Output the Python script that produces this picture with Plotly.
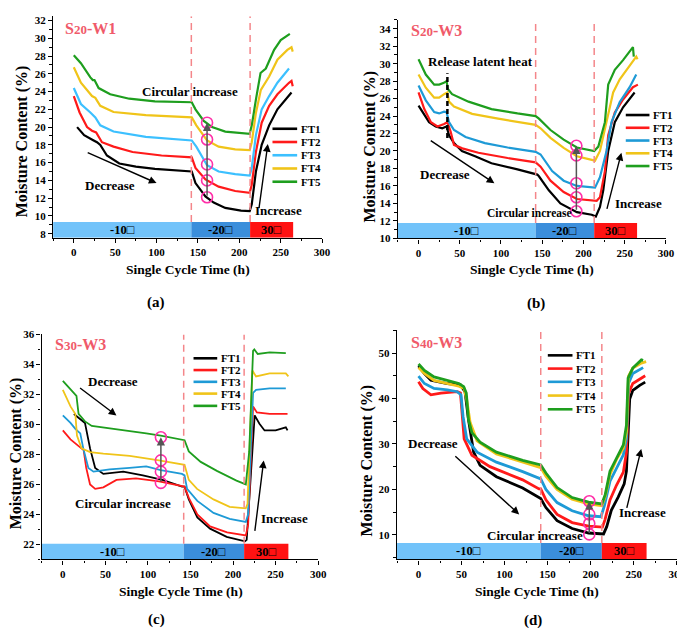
import plotly.graph_objects as go

W, H = 685, 628
FONT = "Liberation Serif"

FT_NAMES = ["FT1", "FT2", "FT3", "FT4", "FT5"]
STAGE_EDGES = [-25, 142, 213, 265]
STAGE_LABELS = ["-10□", "-20□", "30□"]
STAGE_COLORS = ["#72C3FA", "#3B8EDB", "#FF1212"]

# (a) S20-W1
a_t1 = [4, 12.5, 24, 28, 32, 40, 55, 75, 98, 141, 142.5, 147, 159, 169, 183, 202, 212.5, 215, 220, 227, 236, 246, 260, 263]
a_ft1 = [20.0, 19.1, 18.5, 18.3, 18.0, 16.8, 15.9, 15.55, 15.3, 15.0, 15.0, 13.7, 12.2, 11.5, 10.9, 10.6, 10.55, 11.3, 15.0, 18.0, 20.2, 22.0, 23.6, 23.9]
a_t2 = [0, 7, 16, 22, 27, 34, 48, 71, 106, 141, 142.5, 147, 159, 175, 195, 212.5, 215, 220, 227, 236, 246, 260, 263, 264.5]
a_ft2 = [23.5, 21.65, 20.0, 19.6, 19.4, 18.3, 17.8, 17.2, 16.8, 16.6, 16.6, 15.4, 14.1, 13.3, 12.8, 12.6, 13.5, 17.2, 20.5, 22.4, 23.7, 25.0, 25.2, 24.6]
a_t3 = [0, 8.6, 20, 26, 32, 48, 87, 141, 142.5, 148, 161, 175, 195, 212.5, 215, 220, 227, 236, 246, 260]
a_ft3 = [24.4, 22.6, 21.65, 21.1, 20.2, 19.5, 18.9, 18.5, 18.5, 17.8, 15.7, 15.0, 14.7, 14.55, 15.4, 19.1, 22.0, 23.5, 25.0, 26.6]
a_t4 = [0, 8.6, 22, 26, 32, 48, 87, 141, 142.5, 148, 161, 175, 195, 212.5, 215, 220, 226, 236, 246, 258, 263, 264.5]
a_ft4 = [26.75, 25.0, 23.5, 23.3, 22.4, 21.7, 21.35, 21.1, 21.1, 20.2, 18.5, 17.8, 17.5, 17.4, 18.3, 21.6, 24.2, 25.7, 27.6, 28.7, 29.0, 28.5]
a_t5 = [0, 8.6, 20, 23, 25, 30, 44, 67, 98, 141, 142.5, 147, 157, 167, 183, 212.5, 215, 220, 225.6, 232, 242, 250, 261]
a_ft5 = [28.1, 27.2, 25.6, 25.3, 25.3, 24.4, 23.7, 23.2, 22.9, 22.8, 22.8, 22.0, 20.7, 20.0, 19.5, 19.25, 20.2, 23.1, 26.1, 26.6, 28.7, 29.8, 30.5]
a_circle_t = 161
a_circles = [12.1, 14.0, 15.8, 18.6, 20.5]

# (b) S20-W3
b_t1 = [0, 7, 12.8, 20.8, 28.7, 34, 37, 43, 52.6, 68.6, 88.5, 120, 144, 146, 158, 172, 192, 210, 215, 220, 224, 230, 238, 248, 262]
b_ft1 = [25.2, 24.1, 23.3, 22.8, 22.6, 22.8, 21.8, 20.9, 20.0, 19.4, 18.6, 17.9, 17.3, 17.1, 15.5, 14.0, 13.0, 12.7, 12.5, 13.6, 15.5, 20.0, 23.3, 25.0, 26.7]
b_t2 = [0, 7, 15, 23, 31, 35, 39, 43, 53, 72.6, 108, 142, 148, 160, 176, 192, 216, 220, 226, 230, 238, 248, 260, 266]
b_ft2 = [26.7, 24.8, 23.3, 22.8, 23.1, 23.3, 22.2, 20.7, 20.3, 19.8, 19.2, 18.7, 18.2, 16.6, 15.3, 14.5, 14.3, 14.7, 17.7, 21.8, 24.4, 25.9, 27.3, 27.6]
b_t3 = [0, 8.8, 19, 25, 31, 34, 37, 43, 57, 80.5, 108, 142, 148, 162, 176, 192, 214, 220, 228, 234, 244, 256, 264]
b_ft3 = [27.5, 25.8, 24.45, 24.3, 24.5, 24.45, 23.3, 22.4, 21.6, 20.9, 20.4, 19.9, 19.6, 17.7, 16.6, 16.0, 15.8, 17.0, 20.0, 23.3, 25.6, 27.3, 28.75]
b_t4 = [0, 8.8, 19, 25, 31, 35, 37, 43, 65, 96.5, 142, 148, 160, 176, 192, 214, 220, 228, 236, 244, 256, 264, 265.5]
b_ft4 = [28.75, 27.25, 26.1, 26.1, 26.5, 26.7, 25.65, 25.1, 24.25, 23.7, 23.0, 22.6, 21.5, 20.35, 19.4, 18.9, 20.0, 23.3, 26.7, 28.2, 29.7, 30.8, 30.5]
b_t5 = [0, 8.8, 19, 25, 30.7, 34, 35.5, 40.7, 60.6, 88.5, 120, 142, 146, 160, 176, 192, 213, 218, 226, 230, 238, 248, 260, 261]
b_ft5 = [30.5, 28.75, 27.6, 27.6, 27.8, 28.0, 27.1, 26.5, 25.65, 24.8, 24.3, 24.0, 23.7, 22.4, 21.3, 20.4, 20.0, 20.5, 23.3, 27.6, 29.3, 30.4, 31.9, 30.8]
b_circle_t = 191.4
b_circles = [13.1, 14.7, 16.3, 19.5, 20.6]

# (c) S30-W3
c_t1 = [13, 26, 32, 38, 47.6, 71, 94, 117, 140, 143, 148, 158, 173, 192.5, 214, 216, 225.4, 231, 237, 250, 262, 264]
c_ft1 = [30.7, 30.1, 28.4, 27.1, 26.7, 26.85, 26.6, 26.3, 25.85, 25.85, 25.0, 23.8, 23.05, 22.5, 22.2, 22.3, 30.6, 30.05, 29.6, 29.6, 29.8, 29.6]
c_t2 = [0, 9, 18.6, 24.4, 27.5, 32, 38, 47.6, 63, 86, 113, 140, 143, 148, 158, 173, 193, 215, 217.7, 223.5, 228, 243, 264]
c_ft2 = [29.6, 29.0, 28.55, 28.3, 27.1, 26.0, 25.7, 25.8, 26.3, 26.4, 26.2, 25.85, 25.85, 25.1, 24.0, 23.2, 22.8, 22.6, 23.3, 31.2, 30.8, 30.7, 30.7]
c_t3 = [0, 9, 14.7, 20.5, 24, 30, 36, 55, 78.5, 98, 115, 140, 143, 146, 158, 177, 196, 215, 217.7, 223.5, 227, 243, 262]
c_ft3 = [30.6, 30.1, 29.7, 29.4, 28.4, 27.1, 26.85, 27.0, 27.1, 27.2, 26.95, 26.7, 26.6, 25.7, 24.9, 24.1, 23.7, 23.5, 24.0, 32.1, 32.3, 32.4, 32.4]
c_t4 = [0, 9, 14.7, 16.6, 22, 32, 47.6, 78.5, 113, 140, 143, 148, 157.7, 177, 196, 215, 217, 222.7, 227, 243, 262, 265]
c_ft4 = [32.3, 31.2, 30.7, 29.25, 28.4, 28.15, 28.05, 27.9, 27.6, 27.3, 27.3, 26.3, 25.7, 25.0, 24.5, 24.4, 24.7, 33.6, 33.2, 33.4, 33.4, 33.2]
c_t5 = [0, 9, 16, 18.5, 26, 34, 47.6, 71, 98, 115, 140, 143, 148, 162, 181, 204, 215, 219, 223.5, 225, 229, 243, 262]
c_ft5 = [32.9, 32.3, 31.9, 30.7, 30.2, 29.9, 29.8, 29.64, 29.4, 29.25, 29.0, 28.95, 28.2, 27.5, 26.9, 26.25, 26.0, 28.2, 34.9, 35.0, 34.7, 34.8, 34.75]
c_circle_t = 115.2
c_circles = [26.1, 26.85, 27.6, 29.14]

# (d) S40-W3
d_t1 = [0, 6.8, 14.4, 33.5, 48.7, 54, 58, 64, 71.5, 90.5, 121, 140, 142, 148, 161, 178.5, 197.6, 215, 218.7, 224, 232, 239, 241.6, 245.4, 249, 257, 263.4]
d_ft1 = [47.2, 45.5, 44.0, 43.3, 43.0, 41.5, 35.4, 28.2, 25.3, 22.8, 20.3, 18.1, 18.0, 16.0, 13.1, 11.4, 10.4, 10.2, 11.8, 15.4, 18.3, 21.2, 24.0, 39.9, 41.8, 42.9, 43.6]
d_t2 = [0, 5, 14.4, 26, 45, 48.7, 50.6, 53, 62, 83, 121, 140, 142, 148, 161, 178.5, 197.6, 213.7, 216.7, 222.5, 230, 238, 241.6, 244, 249, 260.7, 263.4]
d_ft2 = [43.7, 42.2, 40.8, 41.2, 41.5, 41.2, 36.8, 31.1, 27.5, 25.0, 22.1, 20.1, 20.1, 17.7, 14.5, 12.7, 11.9, 11.7, 13.35, 17.7, 20.9, 23.8, 28.1, 41.1, 43.3, 44.7, 45.0]
d_t3 = [0, 6.8, 18, 33.5, 45, 49.4, 51.7, 56, 68, 90.5, 121, 140, 142, 148, 161, 178.5, 197.6, 212, 216, 222.5, 230, 238, 241.6, 244, 249, 259, 261]
d_ft3 = [44.9, 43.3, 42.2, 41.9, 41.5, 40.8, 36.1, 31.1, 28.2, 26.0, 23.9, 22.3, 22.3, 20.0, 17.1, 15.3, 14.2, 14.0, 16.4, 21.8, 24.7, 27.6, 31.1, 43.3, 45.5, 46.6, 46.8]
d_t4 = [0, 6.8, 18, 33.5, 46.8, 53, 56, 60, 68, 90.5, 121, 140, 142, 148, 161, 178.5, 197.6, 213, 217, 222.5, 230, 238, 241.6, 244, 249, 259, 264.5]
d_ft4 = [46.8, 45.5, 44.0, 43.3, 42.7, 42.2, 39.7, 34.7, 30.7, 27.8, 26.0, 25.0, 24.8, 22.9, 20.0, 17.85, 16.8, 16.4, 18.5, 23.3, 26.6, 29.1, 32.7, 44.9, 46.7, 47.8, 48.1]
d_t5 = [0, 6.8, 18, 33.5, 46.8, 52.5, 55.5, 58, 62, 71.5, 90.5, 121, 140, 142, 148, 161, 178.5, 197.6, 213, 217, 222.5, 230, 238, 241.6, 243.5, 249, 259, 261]
d_ft5 = [47.6, 46.2, 44.75, 44.0, 43.3, 42.6, 41.2, 35.4, 32.5, 30.4, 28.2, 26.4, 25.5, 25.4, 23.6, 20.4, 18.2, 17.2, 16.8, 18.9, 24.0, 26.9, 29.8, 34.1, 44.5, 46.7, 48.5, 48.4]
d_circle_t = 198.4
d_circles = [10.1, 12.5, 14.5, 17.4]


def paper_x(p):
    return p / W


def paper_y(p):
    return 1 - p / H


def bold(size, color="black"):
    return dict(family=FONT, size=size, color=color, weight="bold")


def note(x, y, xr, yr, text, font, **kw):
    d = dict(x=x, y=y, xref=xr, yref=yr, text=text, showarrow=False, font=font,
             xanchor="center", yanchor="middle")
    d.update(kw)
    return d


panels = [
    dict(title="S<span style='font-size:13px'>20</span>-W1",
         series=[(a_t1, a_ft1), (a_t2, a_ft2), (a_t3, a_ft3), (a_t4, a_ft4), (a_t5, a_ft5)],
         colors=["#000000", "#FF1A1A", "#3CC0FF", "#F0C419", "#1E9E1E"], width=2.2,
         circle_t=a_circle_t, circles=a_circles,
         xdom=[45.7, 318.3], ydom=[2.2, 228], yrange=[7.55, 32.5], ydt=2, bar_top=9.3,
         legend=dict(x0=268, x1=293, rows=[117, 130.5, 144, 157.5, 171]),
         label_pos=(56, 15), sub=("(a)", 150, 294),
         xtitle=(182, 260), ytitle=(14, 130)),
    dict(title="S<span style='font-size:13px'>20</span>-W3",
         series=[(b_t1, b_ft1), (b_t2, b_ft2), (b_t3, b_ft3), (b_t4, b_ft4), (b_t5, b_ft5)],
         colors=["#000000", "#FF1A1A", "#1E9AD6", "#F0C419", "#1E9E1E"], width=2.2,
         circle_t=b_circle_t, circles=b_circles,
         xdom=[395.1, 666.7], ydom=[6.1, 228.7], yrange=[10, 35], ydt=2, bar_top=11.75,
         legend=dict(x0=626, x1=650, rows=[103, 116, 129, 142, 155]),
         label_pos=(406, 17), sub=("(b)", 535, 295),
         xtitle=(531, 260), ytitle=(367, 135)),
    dict(title="S<span style='font-size:13px'>30</span>-W3",
         series=[(c_t1, c_ft1), (c_t2, c_ft2), (c_t3, c_ft3), (c_t4, c_ft4), (c_t5, c_ft5)],
         colors=["#000000", "#FF1A1A", "#1E9AD6", "#F0C419", "#1E9E1E"], width=1.8,
         circle_t=c_circle_t, circles=c_circles,
         xdom=[34, 314.3], ydom=[326.7, 556], yrange=[21, 36], ydt=2, bar_top=22.05,
         legend=dict(x0=188, x1=212, rows=[351, 363, 375, 387, 399.5]),
         label_pos=(46, 337), sub=("(c)", 150, 617),
         xtitle=(175, 589), ytitle=(9, 448)),
    dict(title="S<span style='font-size:13px'>40</span>-W3",
         series=[(d_t1, d_ft1), (d_t2, d_ft2), (d_t3, d_ft3), (d_t4, d_ft4), (d_t5, d_ft5)],
         colors=["#000000", "#FF1A1A", "#1E9AD6", "#F0C419", "#1E9E1E"], width=2.8,
         circle_t=d_circle_t, circles=d_circles,
         xdom=[394.2, 677.6], ydom=[322.5, 556], yrange=[4.6, 55], ydt=10, bar_top=8.2,
         legend=dict(x0=547, x1=572, rows=[348, 361.5, 375, 389, 403]),
         label_pos=(406, 335), sub=("(d)", 532, 618),
         xtitle=(536, 589), ytitle=(364, 455)),
]

# notes: (text, x, y, font size); arrows: (x_tail, y_tail, x_head, y_head)
notes = [
    [("Circular increase", 140, 24.0, 13), ("Decrease", 44, 13.4, 13), ("Increase", 247, 10.6, 13)],
    [("Release latent heat", 75, 30.2, 13), ("Decrease", 32, 17.3, 13),
     ("Circular increase", 135, 12.85, 11.5), ("Increase", 267, 14.0, 13)],
    [("Decrease", 59, 32.85, 13), ("Circular increase", 71, 24.7, 13), ("Increase", 260, 23.75, 13)],
    [("Decrease", 17, 30.0, 13), ("Circular increase", 135, 9.8, 13), ("Increase", 260, 14.9, 13)],
]
arrows = [
    [(15, 17.2, 100, 13.7), (223.5, 10.7, 234.4, 18.1)],
    [(13, 21.3, 92, 16.3), (228, 13.2, 246, 19.8)],
    [(18.5, 32.5, 63, 30.6), (225.4, 22.8, 236, 27.6)],
    [(41, 27.6, 117, 14.5), (241.6, 15.6, 258.8, 28.9)],
]

fig = go.Figure()
annotations = []
shapes = []
layout_axes = {}

for i, p in enumerate(panels):
    s = "" if i == 0 else str(i + 1)
    xr, yr = "x" + s, "y" + s
    y0, y1 = p["yrange"]

    # temperature stages
    for k, lab in enumerate(STAGE_LABELS):
        shapes.append(dict(type="rect", xref=xr, yref=yr, x0=STAGE_EDGES[k], x1=STAGE_EDGES[k + 1],
                           y0=y0, y1=p["bar_top"], fillcolor=STAGE_COLORS[k], line=dict(width=0),
                           layer="below"))
        annotations.append(note((STAGE_EDGES[k] + STAGE_EDGES[k + 1]) / 2, (y0 + p["bar_top"]) / 2,
                                xr, yr, lab, bold(12.5)))
    for xe in STAGE_EDGES[1:3]:
        shapes.append(dict(type="line", xref=xr, yref=yr, x0=xe, x1=xe, y0=p["bar_top"], y1=y1,
                           line=dict(color="#F4868A", width=1.5, dash="7px,5px")))

    for name, (t, m), c in zip(FT_NAMES, p["series"], p["colors"]):
        fig.add_trace(go.Scatter(x=t, y=m, mode="lines", name=name, showlegend=False,
                                 line=dict(color=c, width=p["width"]), xaxis=xr, yaxis=yr))

    fig.add_trace(go.Scatter(x=[p["circle_t"]] * len(p["circles"]), y=p["circles"], mode="markers",
                             showlegend=False, xaxis=xr, yaxis=yr,
                             marker=dict(symbol="circle-open", size=11, color="#FF2FA8",
                                         line=dict(width=1.6, color="#FF2FA8"))))
    annotations.append(dict(x=p["circle_t"], y=p["circles"][-1], ax=p["circle_t"], ay=p["circles"][0],
                            xref=xr, yref=yr, axref=xr, ayref=yr, text="", showarrow=True,
                            arrowhead=2, arrowsize=1.1, arrowwidth=1.5, arrowcolor="#555555"))

    for txt, tx, ty, fs in notes[i]:
        annotations.append(note(tx, ty, xr, yr, txt, bold(fs)))
    for ax_, ay_, hx, hy in arrows[i]:
        annotations.append(dict(x=hx, y=hy, ax=ax_, ay=ay_, xref=xr, yref=yr, axref=xr, ayref=yr,
                                text="", showarrow=True, arrowhead=2, arrowsize=1.1, arrowwidth=1.4,
                                arrowcolor="black"))

    # hand-made legend
    lg = p["legend"]
    for name, c, row in zip(FT_NAMES, p["colors"], lg["rows"]):
        shapes.append(dict(type="line", xref="paper", yref="paper", x0=paper_x(lg["x0"]), x1=paper_x(lg["x1"]),
                           y0=paper_y(row), y1=paper_y(row), line=dict(color=c, width=2.6)))
        annotations.append(note(paper_x(lg["x1"] + 2), paper_y(row), "paper", "paper", name, bold(11),
                                xanchor="left"))

    lx, ly = p["label_pos"]
    annotations.append(note(paper_x(lx), paper_y(ly), "paper", "paper", p["title"], bold(16, "#F05A6A"),
                            xanchor="left"))
    sx, sy = p["xtitle"]
    annotations.append(note(paper_x(sx), paper_y(sy), "paper", "paper", "Single Cycle Time (h)", bold(13.5)))
    vx, vy = p["ytitle"]
    annotations.append(note(paper_x(vx), paper_y(vy), "paper", "paper", "Moisture Content (%)", bold(16),
                            textangle=-90))
    st, sbx, sby = p["sub"]
    annotations.append(note(paper_x(sbx), paper_y(sby), "paper", "paper", st, bold(15)))

    axis_common = dict(showline=True, linecolor="black", linewidth=1.4, ticks="outside", ticklen=4,
                       tickwidth=1.3, tickcolor="black", showgrid=False, zeroline=False,
                       tickfont=bold(11))
    layout_axes["xaxis" + s] = dict(axis_common, domain=[paper_x(p["xdom"][0]), paper_x(p["xdom"][1])],
                                    anchor=yr, range=[-25, 300], dtick=50, tick0=0,
                                    minor=dict(dtick=25, tick0=0, ticks="outside", ticklen=2.5,
                                               tickcolor="black"))
    layout_axes["yaxis" + s] = dict(axis_common, domain=[paper_y(p["ydom"][1]), paper_y(p["ydom"][0])],
                                    anchor=xr, range=p["yrange"], dtick=p["ydt"], tick0=0,
                                    minor=dict(dtick=p["ydt"] / 2, tick0=0, ticks="outside", ticklen=2.5,
                                               tickcolor="black"))

# black dashed marker for latent heat release in (b)
shapes.append(dict(type="line", xref="x2", yref="y2", x0=35, x1=35, y0=21.5, y1=28.9,
                   line=dict(color="black", width=2.5, dash="5px,3px")))

fig.update_layout(width=W, height=H, margin=dict(l=0, r=0, t=0, b=0),
                  paper_bgcolor="white", plot_bgcolor="white",
                  annotations=annotations, shapes=shapes, **layout_axes)

fig.write_html("out.html")
